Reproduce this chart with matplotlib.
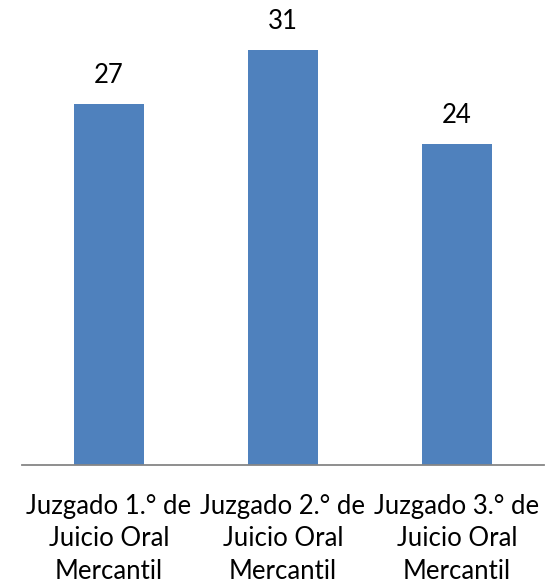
import matplotlib
matplotlib.use("Agg")
import matplotlib.pyplot as plt

categories = ["Juzgado 1.° de\nJuicio Oral\nMercantil",
              "Juzgado 2.° de\nJuicio Oral\nMercantil",
              "Juzgado 3.° de\nJuicio Oral\nMercantil"]
values = [27, 31, 24]

plt.rcParams['font.family'] = ['Lato', 'DejaVu Sans']

W, H = 550, 587
fig = plt.figure(figsize=(W / 100, H / 100), dpi=100)
ax = fig.add_axes([22 / W, 122 / H, 522 / W, 468.3 / H])

x = list(range(len(values)))
ax.bar(x, values, width=0.4, color="#4F81BD", zorder=2)
ax.set_xlim(-0.5, len(values) - 0.5)
ax.set_ylim(0, 35)

for xi, v in zip(x, values):
    ax.annotate(str(v), (xi, v), xytext=(0, 15), textcoords="offset points",
                ha="center", va="baseline", fontsize=18.5, color="black")

ax.set_xticks(x)
ax.set_xticklabels(categories, fontsize=18.5, linespacing=1.36)
ax.tick_params(axis="x", length=0, pad=21)
ax.set_yticks([])
for s in ["left", "right", "top"]:
    ax.spines[s].set_visible(False)
ax.spines["bottom"].set_color("#868686")
ax.spines["bottom"].set_linewidth(1.3)

fig.savefig("out.png", dpi=100)
